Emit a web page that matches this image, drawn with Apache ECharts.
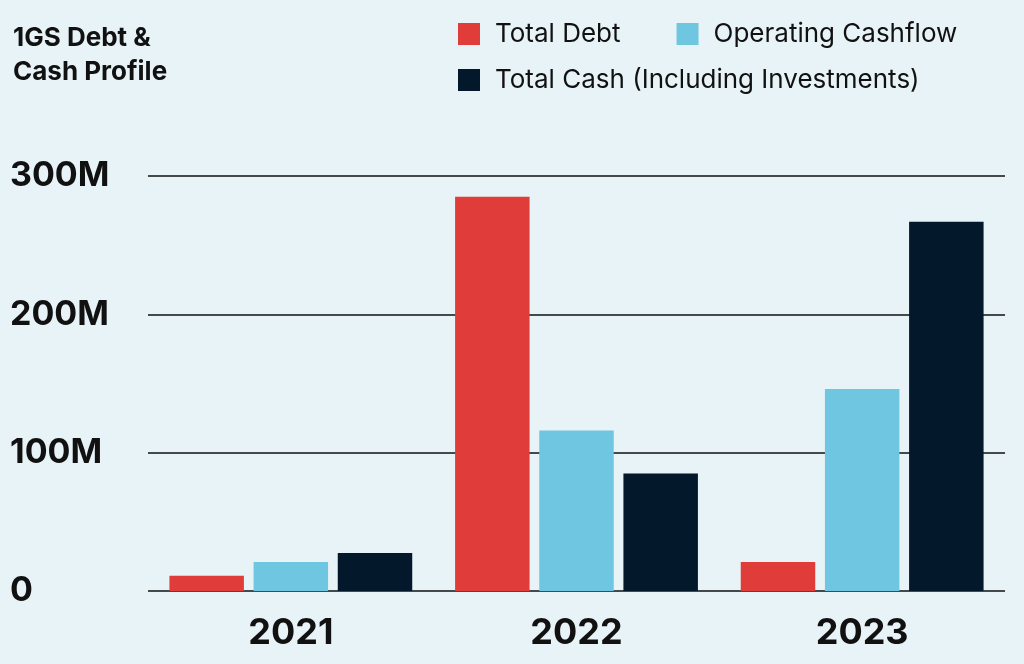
<!DOCTYPE html>
<html style="height: 100%">
<head>
  <meta charset="utf-8">
</head>
<body style="height: 100%; margin: 0; background: #e8f3f7;">
  <div id="container" style="width: 1024px; height: 664px;"></div>
  <script type="text/javascript" src="https://cdn.jsdelivr.net/npm/echarts@6/dist/echarts.min.js"></script>
  <script type="text/javascript">
    var years = ['2021', '2022', '2023'];
    var totalDebt = [11, 285, 21];
    var operatingCashflow = [21, 116, 146];
    var totalCash = [27.5, 85, 267];
    var yTicks = [0, 100, 200, 300];

    var myChart = echarts.init(document.getElementById('container'), null, { renderer: 'canvas' });
    var font = 'Inter, "Noto Sans", sans-serif';
    var option = {
      backgroundColor: '#e8f3f7',
      textStyle: { fontFamily: font },
      title: {
        text: '1GS Debt &\nCash Profile',
        left: 8, top: 16,
        textStyle: { fontSize: 26, fontWeight: 'bold', color: '#111', lineHeight: 34, fontFamily: font }
      },
      legend: [
        {
          data: ['Total Debt', 'Operating Cashflow'],
          left: 453, top: 16, itemWidth: 22, itemHeight: 22, itemGap: 56,
          icon: 'rect',
          textStyle: { fontSize: 26, color: '#111', fontFamily: font, padding: [0, 0, 0, 10] }
        },
        {
          data: ['Total Cash (Including Investments)'],
          left: 453, top: 62, itemWidth: 22, itemHeight: 22,
          icon: 'rect',
          textStyle: { fontSize: 26, color: '#111', fontFamily: font, padding: [0, 0, 0, 10] }
        }
      ],
      grid: { left: 148, right: 19, top: 176, bottom: 73 },
      xAxis: {
        type: 'category',
        data: years,
        axisLine: { show: false },
        axisTick: { show: false },
        axisLabel: { fontSize: 36, fontWeight: 'bold', color: '#111', margin: 24, fontFamily: font }
      },
      yAxis: {
        type: 'value',
        min: 0, max: 300, interval: 100,
        axisLine: { show: false },
        axisTick: { show: false },
        splitLine: { lineStyle: { color: '#111', width: 1.5 } },
        axisLabel: {
          align: 'left', margin: 138,
          fontSize: 34, fontWeight: 'bold', color: '#111', fontFamily: font,
          formatter: function (v) { return yTicks.indexOf(v) >= 0 && v !== 0 ? v + 'M' : '0'; }
        }
      },
      series: [
        { name: 'Total Debt', type: 'bar', data: totalDebt, itemStyle: { color: '#e03c3a' }, barGap: '13%', barCategoryGap: '15%' },
        { name: 'Operating Cashflow', type: 'bar', data: operatingCashflow, itemStyle: { color: '#6ec6e1' } },
        { name: 'Total Cash (Including Investments)', type: 'bar', data: totalCash, itemStyle: { color: '#03182b' } }
      ]
    };
    myChart.setOption(option);
  </script>
</body>
</html>
